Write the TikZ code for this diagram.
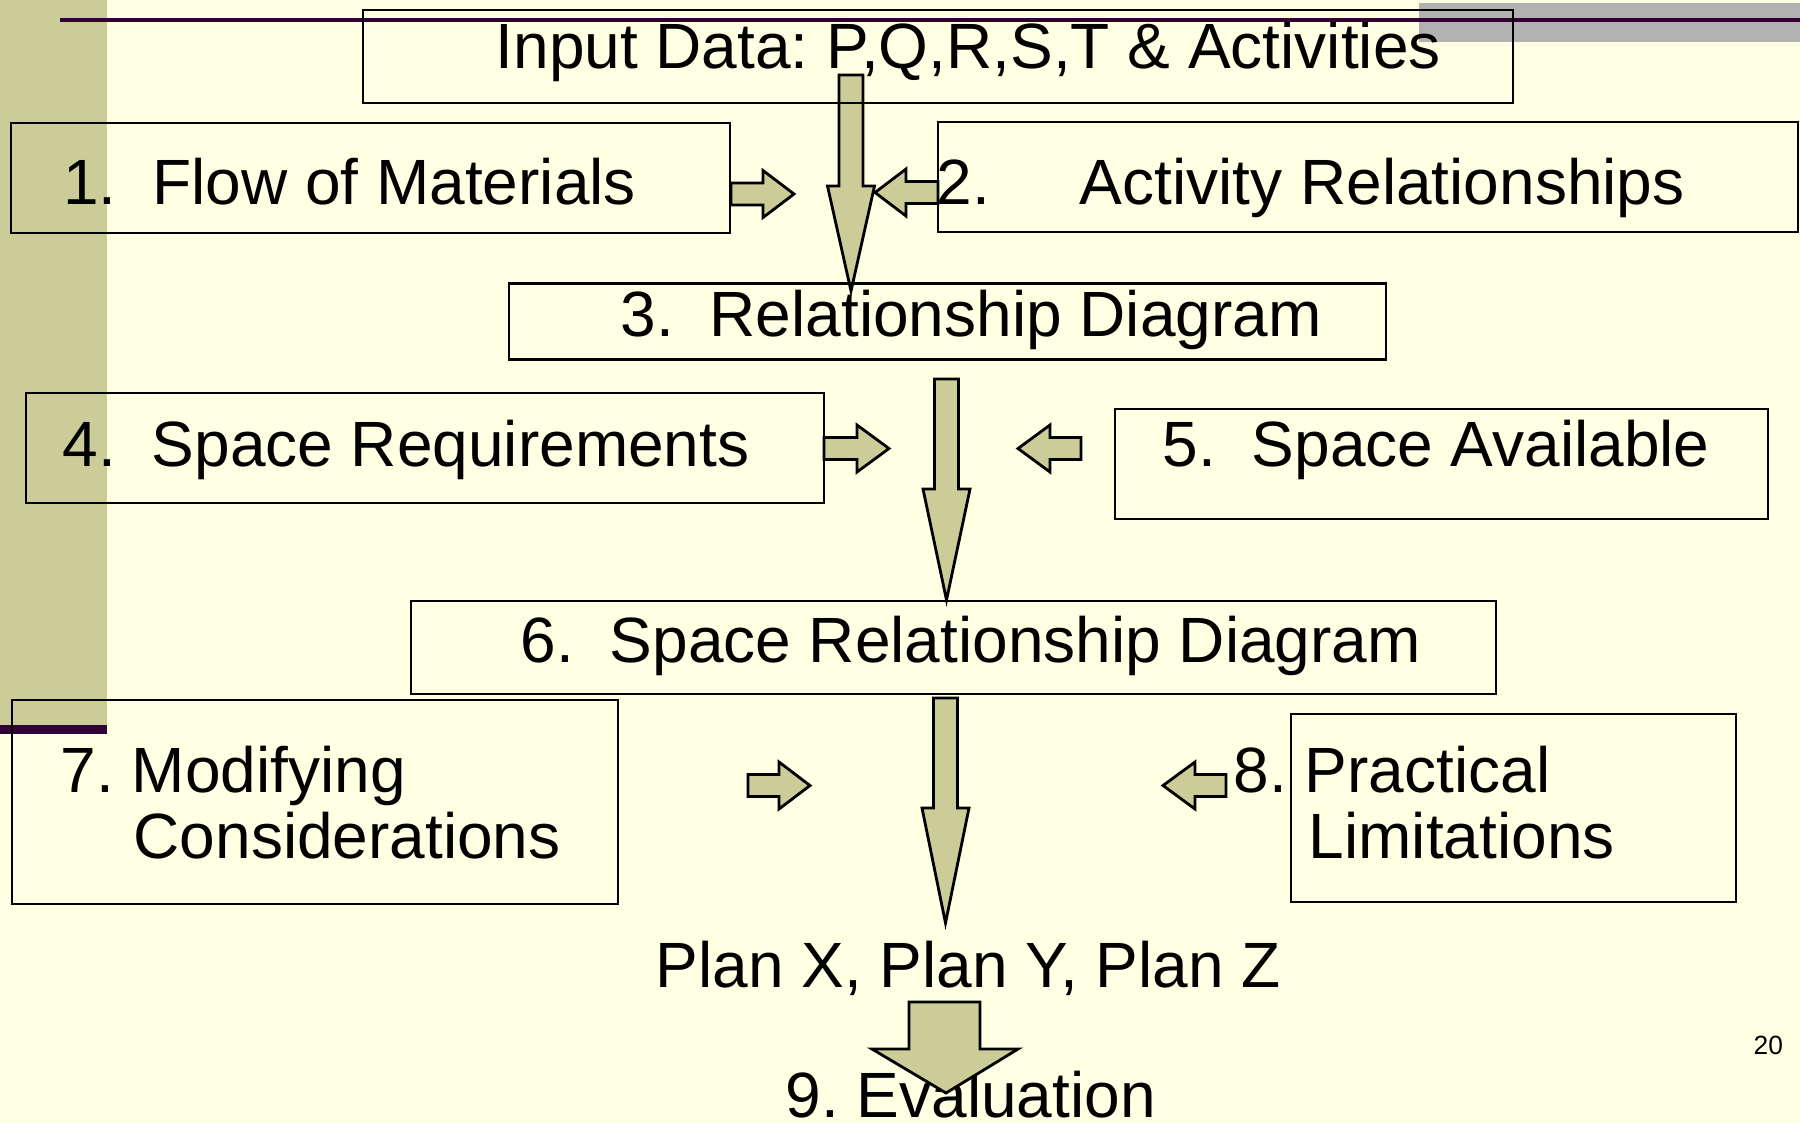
\documentclass[tikz,border=0pt]{standalone}
\usepackage{fontspec}
\setmainfont{Liberation Sans}
\definecolor{paper}{HTML}{FFFFE3}
\definecolor{sage}{HTML}{CCCC99}
\definecolor{plum}{HTML}{330033}
\definecolor{bar}{HTML}{B2B2B2}
\newcommand{\stepno}[1]{\makebox[0.89cm][l]{#1}}
\frenchspacing

\begin{document}
\begin{tikzpicture}[x=0.01cm,y=-0.01cm,font=\fontsize{18.2}{21}\selectfont,
  box/.style={draw,line width=0.6pt,inner sep=0pt},
  txt/.style={anchor=base west,inner sep=0pt},
  blk/.style={draw,fill=sage,line width=0.8pt,line join=miter}]
\useasboundingbox (0,0) rectangle (1800,1123);
% slide background
\fill[paper] (0,0) rectangle (1800,1123);
\fill[sage] (0,0) rectangle (107,725);
\fill[plum] (0,725) rectangle (107,734);
\fill[bar] (1419,3) rectangle (1800,42);
\fill[plum] (60,18) rectangle (1800,21.5);
% texts
\node[txt] (inputtxt) at (495,68) {Input Data: P,Q,R,S,T \& Activities};
\node[txt] (flowtxt) at (62.5,204) {\stepno{1.}Flow of Materials};
\node[txt] (acttxt) at (936,204) {\makebox[1.43cm][l]{2.}Activity Relationships};
\node[txt] (reltxt) at (620,336) {\stepno{3.}Relationship Diagram};
\node[txt] (reqtxt) at (62,466) {\stepno{4.}Space Requirements};
\node[txt] (availtxt) at (1162,466) {\stepno{5.}Space Available};
\node[txt] (srdtxt) at (520,662) {\stepno{6.}Space Relationship Diagram};
\node[txt] (modtxt) at (60,792) {7. Modifying};
\node[txt] (modtxtb) at (133,858) {Considerations};
\node[txt] (practxt) at (1233,792) {8. Practical};
\node[txt] (practxtb) at (1308,858) {Limitations};
\node[txt] (plans) at (655,987) {Plan X, Plan Y, Plan Z};
\node[txt] (evaltxt) at (785,1117) {9. Evaluation};
\node[txt,font=\fontsize{7.5}{9}\selectfont] (page) at (1753,1054) {20};
% block arrows
\foreach \cx/\top/\sh/\tip in {851/75/186/291,946.5/379/489/600,945.5/698/808/923}
  \draw[blk] (\cx-12,\top) -- (\cx+12,\top) -- (\cx+12,\sh) -- (\cx+23.5,\sh) -- (\cx,\tip)
    -- (\cx-23.5,\sh) -- (\cx-12,\sh) -- cycle;
\foreach \x/\y/\hx/\tx in {731/194/763/794,938/192.5/906/875,824/448.5/857/889,
    1081/448.5/1050/1018,748/785.5/779/810,1226/785.5/1195/1163}
  \draw[blk] (\x,\y-11) -- (\hx,\y-11) -- (\hx,\y-23.5) -- (\tx,\y) -- (\hx,\y+23.5)
    -- (\hx,\y+11) -- (\x,\y+11) -- cycle;
\draw[blk] (909,1002) -- (980,1002) -- (980,1049) -- (1018,1049) -- (946,1093)
  -- (872,1049) -- (909,1049) -- cycle;
% boxes
\node[box,minimum width=11.5cm,minimum height=0.93cm] (input) at (938,56.5) {};
\node[box,minimum width=7.19cm,minimum height=1.10cm] (flow) at (370.5,178) {};
\node[box,minimum width=8.60cm,minimum height=1.10cm] (actrel) at (1368,177) {};
\node[box,minimum width=8.77cm,minimum height=0.76cm] (reldiag) at (947.5,321.5) {};
\node[box,minimum width=7.98cm,minimum height=1.10cm] (spacereq) at (425,448) {};
\node[box,minimum width=6.53cm,minimum height=1.10cm] (spaceav) at (1441.5,464) {};
\node[box,minimum width=10.85cm,minimum height=0.93cm] (srd) at (953.5,647.5) {};
\node[box,minimum width=6.06cm,minimum height=2.04cm] (modif) at (315,802) {};
\node[box,minimum width=4.45cm,minimum height=1.88cm] (pract) at (1513.5,808) {};
\end{tikzpicture}
\end{document}
